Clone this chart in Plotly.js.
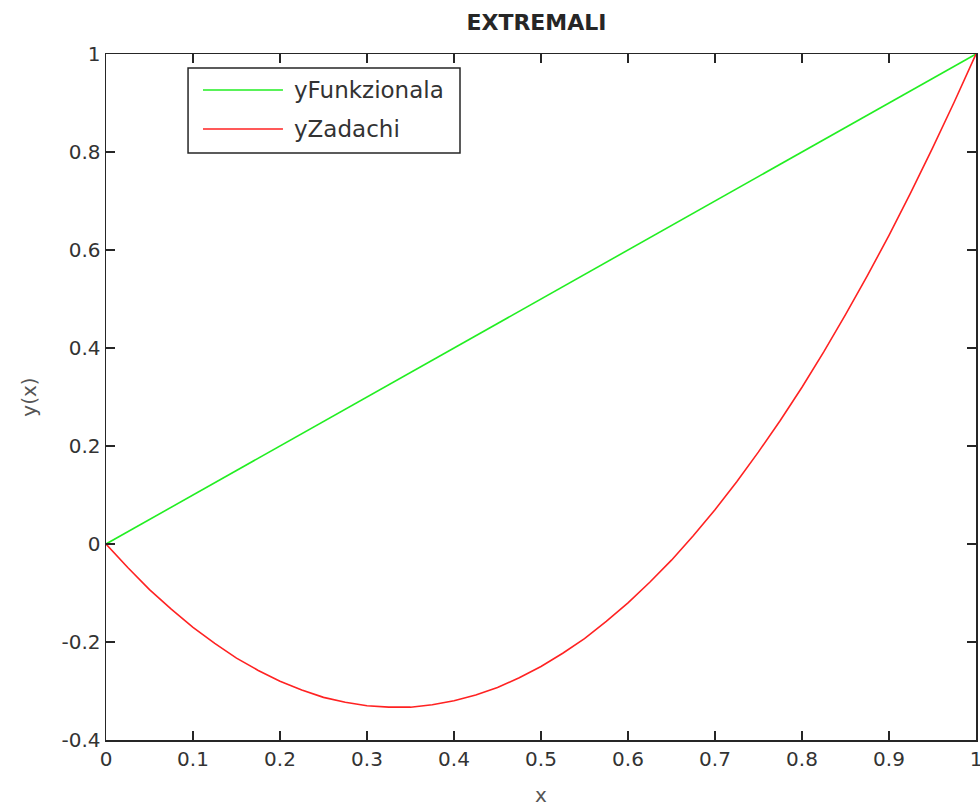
<!DOCTYPE html>
<html>
<head>
<meta charset="utf-8">
<script src="https://cdn.plot.ly/plotly-3.0.1.min.js"></script>
<style>html,body{margin:0;padding:0;background:#fff;}#chart{width:980px;height:807px;}</style>
</head>
<body>
<div id="chart"></div>
<script>
const xValues = [0, 0.025, 0.05, 0.075, 0.1, 0.125, 0.15, 0.175, 0.2, 0.225, 0.25, 0.275, 0.3, 0.325, 0.35, 0.375, 0.4, 0.425, 0.45, 0.475, 0.5, 0.525, 0.55, 0.575, 0.6, 0.625, 0.65, 0.675, 0.7, 0.725, 0.75, 0.775, 0.8, 0.825, 0.85, 0.875, 0.9, 0.925, 0.95, 0.975, 1];
const yFunkzionala = [0, 0.025, 0.05, 0.075, 0.1, 0.125, 0.15, 0.175, 0.2, 0.225, 0.25, 0.275, 0.3, 0.325, 0.35, 0.375, 0.4, 0.425, 0.45, 0.475, 0.5, 0.525, 0.55, 0.575, 0.6, 0.625, 0.65, 0.675, 0.7, 0.725, 0.75, 0.775, 0.8, 0.825, 0.85, 0.875, 0.9, 0.925, 0.95, 0.975, 1];
const yZadachi = [0, -0.048, -0.093, -0.133, -0.17, -0.203, -0.233, -0.258, -0.28, -0.298, -0.313, -0.323, -0.33, -0.333, -0.333, -0.328, -0.32, -0.308, -0.293, -0.273, -0.25, -0.223, -0.193, -0.158, -0.12, -0.078, -0.033, 0.017, 0.07, 0.127, 0.188, 0.252, 0.32, 0.392, 0.468, 0.547, 0.63, 0.717, 0.808, 0.902, 1];
const seriesNames = ['yFunkzionala', 'yZadachi'];
const seriesColors = ['#22ee22', '#ff2222'];
const xTickVals = [0, 0.1, 0.2, 0.3, 0.4, 0.5, 0.6, 0.7, 0.8, 0.9, 1];
const xTickText = ['0', '0.1', '0.2', '0.3', '0.4', '0.5', '0.6', '0.7', '0.8', '0.9', '1'];
const yTickVals = [-0.4, -0.2, 0, 0.2, 0.4, 0.6, 0.8, 1];
const yTickText = ['-0.4', '-0.2', '0', '0.2', '0.4', '0.6', '0.8', '1'];

const FONT = 'DejaVu Sans, Liberation Sans, Arial, sans-serif';
const traces = [
  {x: xValues, y: yFunkzionala, name: seriesNames[0], type: 'scatter', mode: 'lines',
   line: {color: seriesColors[0], width: 1.6}, showlegend: false},
  {x: xValues, y: yZadachi, name: seriesNames[1], type: 'scatter', mode: 'lines',
   line: {color: seriesColors[1], width: 1.6}, showlegend: false}
];
const axisCommon = {
  showgrid: false, zeroline: false, showline: true, mirror: 'ticks',
  linecolor: '#262626', linewidth: 1.5, ticks: 'inside', ticklen: 9, tickwidth: 1.5,
  tickcolor: '#262626', tickfont: {family: FONT, size: 20, color: '#333333'},
  ticklabeloverflow: 'allow'
};

// legend box drawn in paper coordinates
const legBox = {x0: 0.0943, x1: 0.4069, y0: 0.8557, y1: 0.9796};
const legRowsY = [0.9475, 0.8907];
const legLineX = [0.1115, 0.2034];
const legTextX = 0.2138;
const shapes = [{type: 'rect', xref: 'paper', yref: 'paper', x0: legBox.x0, x1: legBox.x1,
  y0: legBox.y0, y1: legBox.y1, line: {color: '#262626', width: 1.5}, fillcolor: '#ffffff', layer: 'above'}];
const annotations = [];
seriesNames.forEach((nm, i) => {
  shapes.push({type: 'line', xref: 'paper', yref: 'paper', x0: legLineX[0], x1: legLineX[1],
    y0: legRowsY[i], y1: legRowsY[i], line: {color: seriesColors[i], width: 1.6}, layer: 'above'});
  annotations.push({xref: 'paper', yref: 'paper', x: legTextX, y: legRowsY[i], xanchor: 'left', yanchor: 'middle',
    text: nm, showarrow: false, font: {family: FONT, size: 23, color: '#333333'}});
});

const layout = {
  width: 980, height: 807,
  margin: {l: 106, r: 4, t: 54, b: 67},
  paper_bgcolor: '#ffffff', plot_bgcolor: '#ffffff',
  title: {text: '<b>EXTREMALI</b>', font: {family: FONT, size: 22, color: '#262626'},
          x: 0.5474, xanchor: 'center', y: 0.972, yanchor: 'middle'},
  xaxis: Object.assign({}, axisCommon, {
    range: [0, 1], tickvals: xTickVals, ticktext: xTickText,
    title: {text: 'x', font: {family: FONT, size: 20, color: '#555555'}, standoff: 20}
  }),
  yaxis: Object.assign({}, axisCommon, {
    range: [-0.4, 1], tickvals: yTickVals, ticktext: yTickText,
    title: {text: 'y(x)', font: {family: FONT, size: 20, color: '#555555'}, standoff: 19}
  }),
  showlegend: false,
  shapes: shapes,
  annotations: annotations
};
Plotly.newPlot('chart', traces, layout, {staticPlot: true});
</script>
</body>
</html>
